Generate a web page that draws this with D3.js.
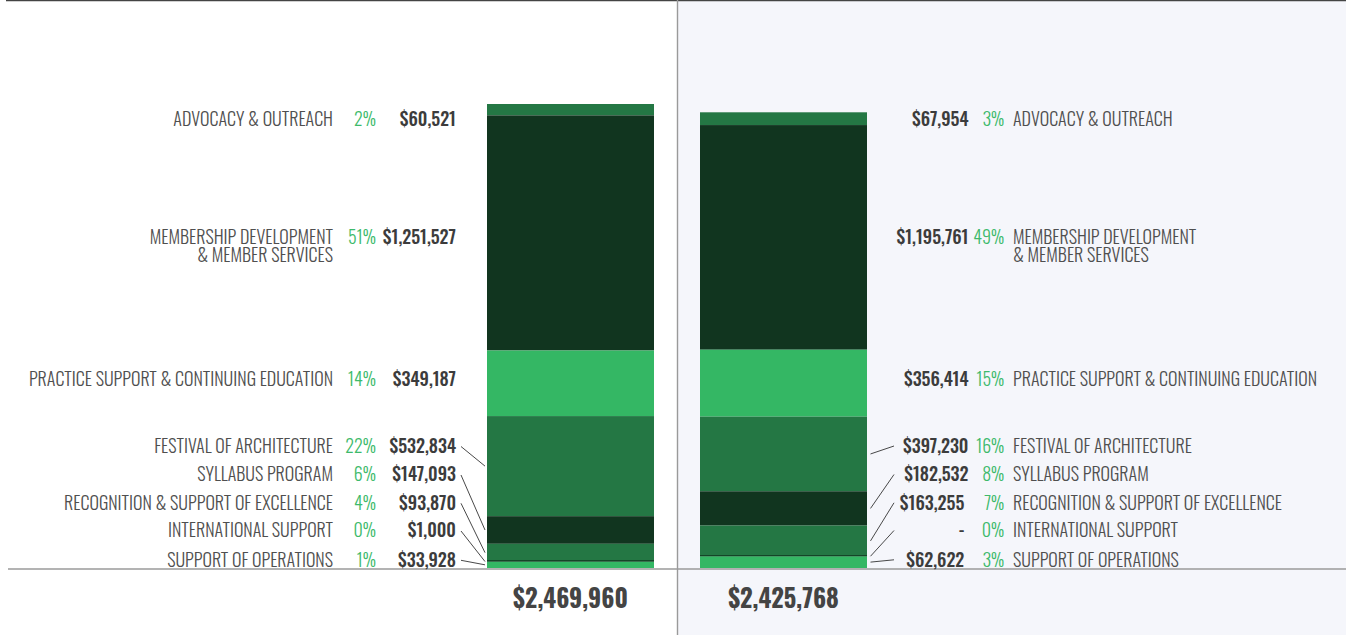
<!DOCTYPE html>
<html><head><meta charset="utf-8">
<script src="https://cdn.jsdelivr.net/npm/d3@7"></script>
<style>
html,body{margin:0;padding:0;background:#fff;}
svg text{font-family:'Oswald','Roboto Condensed',sans-serif;}
</style></head>
<body><svg id="chart" width="1346" height="635"></svg>
<script>
// ---- data ----
const categories = [
  "ADVOCACY & OUTREACH",
  "MEMBERSHIP DEVELOPMENT|& MEMBER SERVICES",
  "PRACTICE SUPPORT & CONTINUING EDUCATION",
  "FESTIVAL OF ARCHITECTURE",
  "SYLLABUS PROGRAM",
  "RECOGNITION & SUPPORT OF EXCELLENCE",
  "INTERNATIONAL SUPPORT",
  "SUPPORT OF OPERATIONS"
];
const valuesPrev = [60521, 1251527, 349187, 532834, 147093, 93870, 1000, 33928];
const valuesCurr = [67954, 1195761, 356414, 397230, 182532, 163255, 0, 62622];
const pctPrev = ["2%", "51%", "14%", "22%", "6%", "4%", "0%", "1%"];
const pctCurr = ["3%", "49%", "15%", "16%", "8%", "7%", "0%", "3%"];
const columns = ["prev", "curr"];
const totals = [2469960, 2425768];
const shade = ["mid", "dark", "bright", "mid", "dark", "mid", "dark", "bright"];

// ---- layout ----
const W = 1346, H = 635;
const baseY = 568, topY = 104;
const labelY = [118.3, 236.7, 379, 445.5, 474, 502.3, 530, 559.3];
const connected = [false, false, false, true, true, true, true, true];
const rightAmtX = [968.5, 968.5, 968.5, 968.5, 968.5, 964.3, 964.3, 964.3];
const colorMap = {mid: "#247744", dark: "#11351f", bright: "#34b764"};
const C = {name: "#4f4f4f", amt: "#3c3c3c", pct: "#3dba6b", line: "#333"};

const svg = d3.select("#chart");

// right panel background
svg.append("rect").attr("x", 678).attr("y", 0).attr("width", W - 678).attr("height", H).attr("fill", "#f5f6fb");

const x = d3.scaleBand().domain(columns).range([487, 867]).paddingInner(46 / 213).paddingOuter(0);
const y = d3.scaleLinear().domain([0, d3.max(totals)]).range([baseY, topY]);

const rows = columns.map((c, ci) => {
  const o = {col: c};
  categories.forEach((k, i) => o[k] = (ci === 0 ? valuesPrev : valuesCurr)[i]);
  return o;
});
const series = d3.stack().keys(categories).order(d3.stackOrderReverse)(rows);

// bars
const g = svg.append("g");
series.forEach(s => {
  const i = categories.indexOf(s.key);
  s.forEach(d => {
    const h = y(d[0]) - y(d[1]);
    g.append("rect")
      .attr("x", x(d.data.col))
      .attr("y", y(d[1]))
      .attr("width", x.bandwidth())
      .attr("height", h)
      .attr("fill", colorMap[shade[i]]);
  });
});
// very thin segments drawn as a hairline so they stay visible
series.forEach(s => {
  const i = categories.indexOf(s.key);
  s.forEach(d => {
    const h = y(d[0]) - y(d[1]);
    if (h < 1) {
      g.append("line").attr("x1", x(d.data.col)).attr("x2", x(d.data.col) + x.bandwidth())
        .attr("y1", y(d[1]) - 0.5).attr("y2", y(d[1]) - 0.5)
        .attr("stroke", colorMap[shade[i]]).attr("stroke-width", 1.2);
    }
  });
});

// frame lines
svg.append("line").attr("x1", 6).attr("x2", W).attr("y1", 0.6).attr("y2", 0.6).attr("stroke", "#444").attr("stroke-width", 1.3);
svg.append("line").attr("x1", 677.5).attr("x2", 677.5).attr("y1", 0).attr("y2", H).attr("stroke", "#9a9a9a").attr("stroke-width", 1.4);
svg.append("line").attr("x1", 8).attr("x2", W).attr("y1", 569).attr("y2", 569).attr("stroke", "#9a9a9a").attr("stroke-width", 1.4);

const fmt = v => v === 0 ? "-" : "$" + d3.format(",")(v);
const fs = 18;
const base = cy => cy + 0.4 * fs;

function nameText(sel, txt, xPos, cy, anchor) {
  const parts = txt.split("|");
  const t = sel.append("text").attr("x", xPos).attr("y", base(cy))
    .attr("text-anchor", anchor).attr("fill", C.name)
    .style("font-size", fs + "px").style("font-weight", 300);
  parts.forEach((p, j) => {
    t.append("tspan").attr("x", xPos).attr("dy", j === 0 ? 0 : 18.2).text(p);
  });
}

// stack midpoints per column
function mid(col, i) {
  const s = series.find(s => s.key === categories[i]);
  const d = s[columns.indexOf(col)];
  return (y(d[0]) + y(d[1])) / 2;
}

const L = svg.append("g"), R = svg.append("g");
categories.forEach((k, i) => {
  const cy = labelY[i];
  // left (prev)
  nameText(L, k, 333, cy, "end");
  L.append("text").attr("x", 376).attr("y", base(cy)).attr("text-anchor", "end").attr("fill", C.pct)
    .style("font-size", fs + "px").style("font-weight", 300).text(pctPrev[i]);
  L.append("text").attr("x", 456).attr("y", base(cy)).attr("text-anchor", "end").attr("fill", C.amt)
    .style("font-size", fs + "px").style("font-weight", 500).text(fmt(valuesPrev[i]));
  // right (curr)
  nameText(R, k, 1013, cy, "start");
  R.append("text").attr("x", 1004.3).attr("y", base(cy)).attr("text-anchor", "end").attr("fill", C.pct)
    .style("font-size", fs + "px").style("font-weight", 300).text(pctCurr[i]);
  R.append("text").attr("x", rightAmtX[i]).attr("y", base(cy)).attr("text-anchor", "end").attr("fill", C.amt)
    .style("font-size", fs + "px").style("font-weight", 500).text(fmt(valuesCurr[i]));
  if (connected[i]) {
    const xl = x("prev"), xr = x("curr") + x.bandwidth();
    L.append("line").attr("x1", 461).attr("y1", cy + 1).attr("x2", xl - 2).attr("y2", mid("prev", i))
      .attr("stroke", C.line).attr("stroke-width", 0.9);
    R.append("line").attr("x1", xr + 3.5).attr("y1", mid("curr", i)).attr("x2", 894).attr("y2", cy + 0.5)
      .attr("stroke", C.line).attr("stroke-width", 0.9);
  }
});

// totals
columns.forEach((c, ci) => {
  svg.append("text").attr("x", x(c) + x.bandwidth() / 2).attr("y", 607.7)
    .attr("text-anchor", "middle").attr("fill", "#444")
    .style("font-size", "24.5px").style("font-weight", 700).text("$" + d3.format(",")(totals[ci]));
});
</script></body></html>
